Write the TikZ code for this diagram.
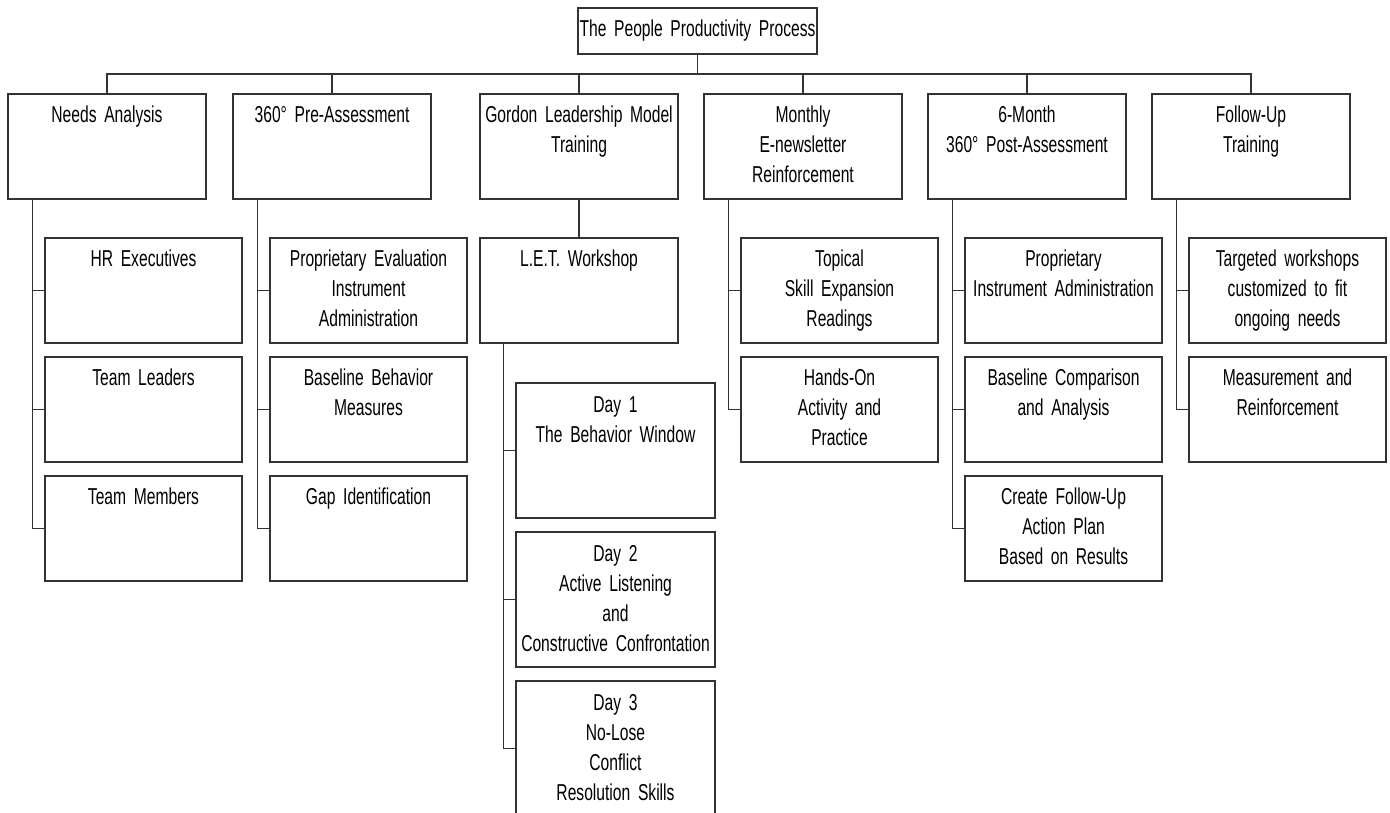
\documentclass[tikz,border=0pt]{standalone}
\usepackage{fontspec}
\setmainfont{Liberation Sans}[FakeStretch=0.68, WordSpace=0.6]
\usetikzlibrary{positioning}

\begin{document}
\begin{tikzpicture}[
            x=1pt, y=-1pt,
            font=\fontsize{23}{30}\selectfont,
            node distance=13pt,
        % all boxes: thin dark frame, text hung from the top edge
            box/.style={draw=black!80, line width=1.4pt, rectangle, inner sep=0pt,
            outer sep=0pt, align=center, text height=28pt},
            root/.style={box, text width=239pt, text depth=18pt},
            phase/.style={box, text width=198pt, text depth=77pt},
            task/.style={box, text width=197pt, text depth=77pt},
            day/.style={box, text width=199pt, text height=29pt, text depth=106pt},
            link/.style={draw=black!80, line width=1.4pt}
        ]
            \useasboundingbox (0,0) rectangle (1390,812);

% --- top of the chart ---
            \node[root, anchor=north west] (top) at (578,8) {The People Productivity Process};

% --- the six phases ---
            \node[phase, anchor=north west] (needs) at (8,94) {Needs Analysis};
            \node[phase, right=27pt of needs] (pre) {360° Pre-Assessment};
            \node[phase, right=49pt of pre] (glm) {Gordon Leadership Model\\Training};
            \node[phase, right=26pt of glm] (news) {Monthly\\E-newsletter\\Reinforcement};
            \node[phase, right=26pt of news] (post) {6-Month\\360° Post-Assessment};
            \node[phase, right=26pt of post] (follow) {Follow-Up\\Training};

% --- needs analysis ---
            \node[task, anchor=north west] (hr) at ([xshift=37pt,yshift=-39pt]needs.south west) {HR Executives};
            \node[task, below=14pt of hr] (lead) {Team Leaders};
            \node[task, below=14pt of lead] (memb) {Team Members};

% --- pre-assessment ---
            \node[task, anchor=north west] (eval) at ([xshift=37pt,yshift=-39pt]pre.south west) {Proprietary Evaluation\\Instrument\\Administration};
            \node[task, below=14pt of eval] (base) {Baseline Behavior\\Measures};
            \node[task, below=14pt of base] (gap) {Gap Identification};

% --- training: workshop and its days ---
            \node[task, text width=198pt, anchor=north west] (let) at ([yshift=-39pt]glm.south west) {L.E.T. Workshop};
            \node[day, anchor=north west] (day1) at ([xshift=36pt,yshift=-40pt]let.south west) {Day 1\\The Behavior Window};
            \node[day, below=14pt of day1] (day2) {Day 2\\Active Listening\\and\\Constructive Confrontation};
            \node[day, below=14pt of day2] (day3) {Day 3\\No-Lose\\Conflict\\Resolution Skills};

% --- e-newsletter ---
            \node[task, anchor=north west] (read) at ([xshift=37pt,yshift=-39pt]news.south west) {Topical\\Skill Expansion\\Readings};
            \node[task, below=14pt of read] (hands) {Hands-On\\Activity and\\Practice};

% --- post-assessment ---
            \node[task, anchor=north west] (inst) at ([xshift=37pt,yshift=-39pt]post.south west) {Proprietary\\Instrument Administration};
            \node[task, below=14pt of inst] (comp) {Baseline Comparison\\and Analysis};
            \node[task, below=14pt of comp] (plan) {Create Follow-Up\\Action Plan\\Based on Results};

% --- follow-up ---
            \node[task, anchor=north west] (work) at ([xshift=37pt,yshift=-39pt]follow.south west) {Targeted workshops\\customized to fit\\ongoing needs};
            \node[task, below=14pt of work] (meas) {Measurement and\\Reinforcement};

% --- connectors ---
            \coordinate (bus) at (0,74);
            \foreach \p in {needs,pre,glm,news,post,follow}
            \draw[link] (top.south) -- (top.south |- bus) -| (\p.north);

            \draw[link] (glm.south) -- (let.north);

            \foreach \p/\c in {needs/hr,needs/lead,needs/memb,pre/eval,pre/base,pre/gap,
                let/day1,let/day2,let/day3,news/read,news/hands,
                post/inst,post/comp,post/plan,follow/work,follow/meas}
            \draw[link] ([xshift=-12.5pt]\c.west |- \p.south) |- (\c.west);
        \end{tikzpicture}
\end{document}
